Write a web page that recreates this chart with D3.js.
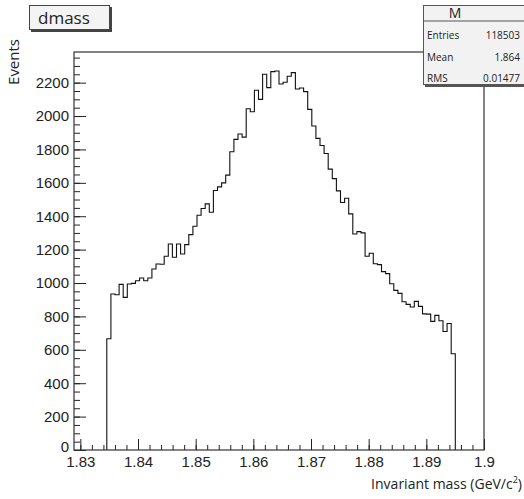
<!DOCTYPE html>
<html>
<head>
<meta charset="utf-8">
<script src="https://cdn.jsdelivr.net/npm/d3@7"></script>
<style>
  html, body { margin: 0; padding: 0; background: #fff; }
  svg { display: block; }
</style>
</head>
<body>
<svg id="chart" width="524" height="499"></svg>
<script>
// histogram "M" : 100 bins over [xMin, xMax], only bins 8..92 are filled
const xMin = 1.8289;
const xMax = 1.9;
const nBins = 100;
const firstBin = 8;
const counts = [
  666, 934, 930, 992, 914, 994, 998, 1014, 1030, 1014,
  1030, 1084, 1114, 1112, 1160, 1234, 1154, 1234, 1174, 1230,
  1290, 1340, 1406, 1446, 1474, 1424, 1554, 1576, 1600, 1646,
  1786, 1860, 1892, 1874, 2044, 2026, 2154, 2100, 2250, 2170,
  2266, 2270, 2192, 2202, 2238, 2260, 2162, 2168, 2146, 2040,
  1940, 1866, 1824, 1776, 1682, 1625, 1552, 1482, 1508, 1414,
  1294, 1308, 1300, 1160, 1178, 1115, 1110, 1068, 1056, 996,
  956, 938, 888, 872, 856, 890, 860, 815, 814, 770,
  806, 774, 710, 758, 576
];

const xTicks = [1.83, 1.84, 1.85, 1.86, 1.87, 1.88, 1.89, 1.9];
const xTickLabels = ["1.83", "1.84", "1.85", "1.86", "1.87", "1.88", "1.89", "1.9"];
const yTicks = [0, 200, 400, 600, 800, 1000, 1200, 1400, 1600, 1800, 2000, 2200];

const histTitle = "dmass";
const statTitle = "M";
const statNames = ["Entries", "Mean", "RMS"];
const statValues = ["118503", "1.864", "0.01477"];

const font = "'Open Sans', 'DejaVu Sans', sans-serif";
const margin = {top: 52, right: 40, bottom: 49, left: 74};
const W = 524, H = 499;

const svg = d3.select("#chart").attr("font-family", font);

const x = d3.scaleLinear()
    .domain([xMin, xMax])
    .range([margin.left, W - margin.right]);

const y = d3.scaleLinear()
    .domain([0, d3.max(counts) * 1.05])
    .range([H - margin.bottom, margin.top]);

const binW = (xMax - xMin) / nBins;

// x axis: major + minor ticks pointing inward
const xMinor = d3.range(0, 36).map(i => 1.83 + i * 0.002).filter(v => v <= xMax + 1e-9);
svg.append("g")
    .attr("transform", `translate(0,${y(0)})`)
    .call(d3.axisBottom(x).tickValues(xMinor).tickSize(-5).tickFormat(""))
    .call(g => g.select(".domain").remove())
    .call(g => g.selectAll("line").attr("stroke", "#222"));

svg.append("g")
    .attr("transform", `translate(0,${y(0)})`)
    .call(d3.axisBottom(x).tickValues(xTicks).tickSize(-11).tickPadding(6)
        .tickFormat((d, i) => xTickLabels[i]))
    .call(g => g.select(".domain").remove())
    .call(g => g.selectAll("line").attr("stroke", "#222"))
    .call(g => g.selectAll("text").attr("font-size", 15).attr("fill", "#222"));

// y axis
const yMinor = d3.range(0, y.domain()[1], 50);
svg.append("g")
    .attr("transform", `translate(${x(xMin)},0)`)
    .call(d3.axisLeft(y).tickValues(yMinor).tickSize(-6).tickFormat(""))
    .call(g => g.select(".domain").remove())
    .call(g => g.selectAll("line").attr("stroke", "#222"));

svg.append("g")
    .attr("transform", `translate(${x(xMin)},0)`)
    .call(d3.axisLeft(y).tickValues(yTicks).tickSize(-12).tickPadding(5).tickFormat(d3.format("d")))
    .call(g => g.select(".domain").remove())
    .call(g => g.selectAll("line").attr("stroke", "#222"))
    .call(g => g.selectAll("text").attr("font-size", 15).attr("fill", "#222")
        .attr("dy", d => d === 0 ? "0.1em" : "0.32em"));

// histogram outline
const pts = [[x(xMin + firstBin * binW), y(0)]];
counts.forEach((c, i) => {
    const lo = xMin + (firstBin + i) * binW;
    pts.push([x(lo), y(c)]);
    pts.push([x(lo + binW), y(c)]);
});
pts.push([x(xMin + (firstBin + counts.length) * binW), y(0)]);

svg.append("path")
    .attr("d", d3.line()(pts))
    .attr("fill", "none")
    .attr("stroke", "#111")
    .attr("stroke-width", 1.1);

// frame
svg.append("rect")
    .attr("x", x(xMin)).attr("y", y.range()[1])
    .attr("width", x(xMax) - x(xMin)).attr("height", y(0) - y.range()[1])
    .attr("fill", "none").attr("stroke", "#333").attr("stroke-width", 1.2);

// axis titles
svg.append("text")
    .attr("transform", "translate(19,39) rotate(-90)")
    .attr("text-anchor", "end")
    .attr("font-size", 15).attr("fill", "#222")
    .text("Events");

const xt = svg.append("text")
    .attr("x", 522).attr("y", 489)
    .attr("text-anchor", "end")
    .attr("font-size", 14).attr("fill", "#222");
xt.append("tspan").text("Invariant mass (GeV/c");
xt.append("tspan").attr("font-size", 9).attr("dy", -6).text("2");
xt.append("tspan").attr("dy", 6).text(")");

// title box
const tb = svg.append("g");
tb.append("rect").attr("x", 31).attr("y", 7).attr("width", 81).attr("height", 25).attr("fill", "#444");
tb.append("rect").attr("x", 29.5).attr("y", 5.5).attr("width", 80).attr("height", 24)
    .attr("fill", "#f4f4f4").attr("stroke", "#444").attr("stroke-width", 1);
tb.append("text").attr("x", 38).attr("y", 24).attr("font-size", 17).attr("fill", "#222").text(histTitle);

// stats box
const sb = svg.append("g");
sb.append("rect").attr("x", 425).attr("y", 7).attr("width", 110).attr("height", 80).attr("fill", "#555");
sb.append("rect").attr("x", 423.5).attr("y", 5.5).attr("width", 110).attr("height", 79)
    .attr("fill", "#f2f2f2").attr("stroke", "#555").attr("stroke-width", 1);
sb.append("line").attr("x1", 423.5).attr("x2", 524).attr("y1", 21).attr("y2", 21)
    .attr("stroke", "#555");
sb.append("text").attr("x", 455).attr("y", 18).attr("text-anchor", "middle")
    .attr("font-size", 14).attr("fill", "#222").text(statTitle);
statNames.forEach((n, i) => {
    const ty = 39 + i * 21.5;
    sb.append("text").attr("x", 427).attr("y", ty).attr("font-size", 10).attr("fill", "#222").text(n);
    sb.append("text").attr("x", 520).attr("y", ty).attr("text-anchor", "end")
        .attr("font-size", 10).attr("fill", "#222").text(statValues[i]);
});
</script>
</body>
</html>
